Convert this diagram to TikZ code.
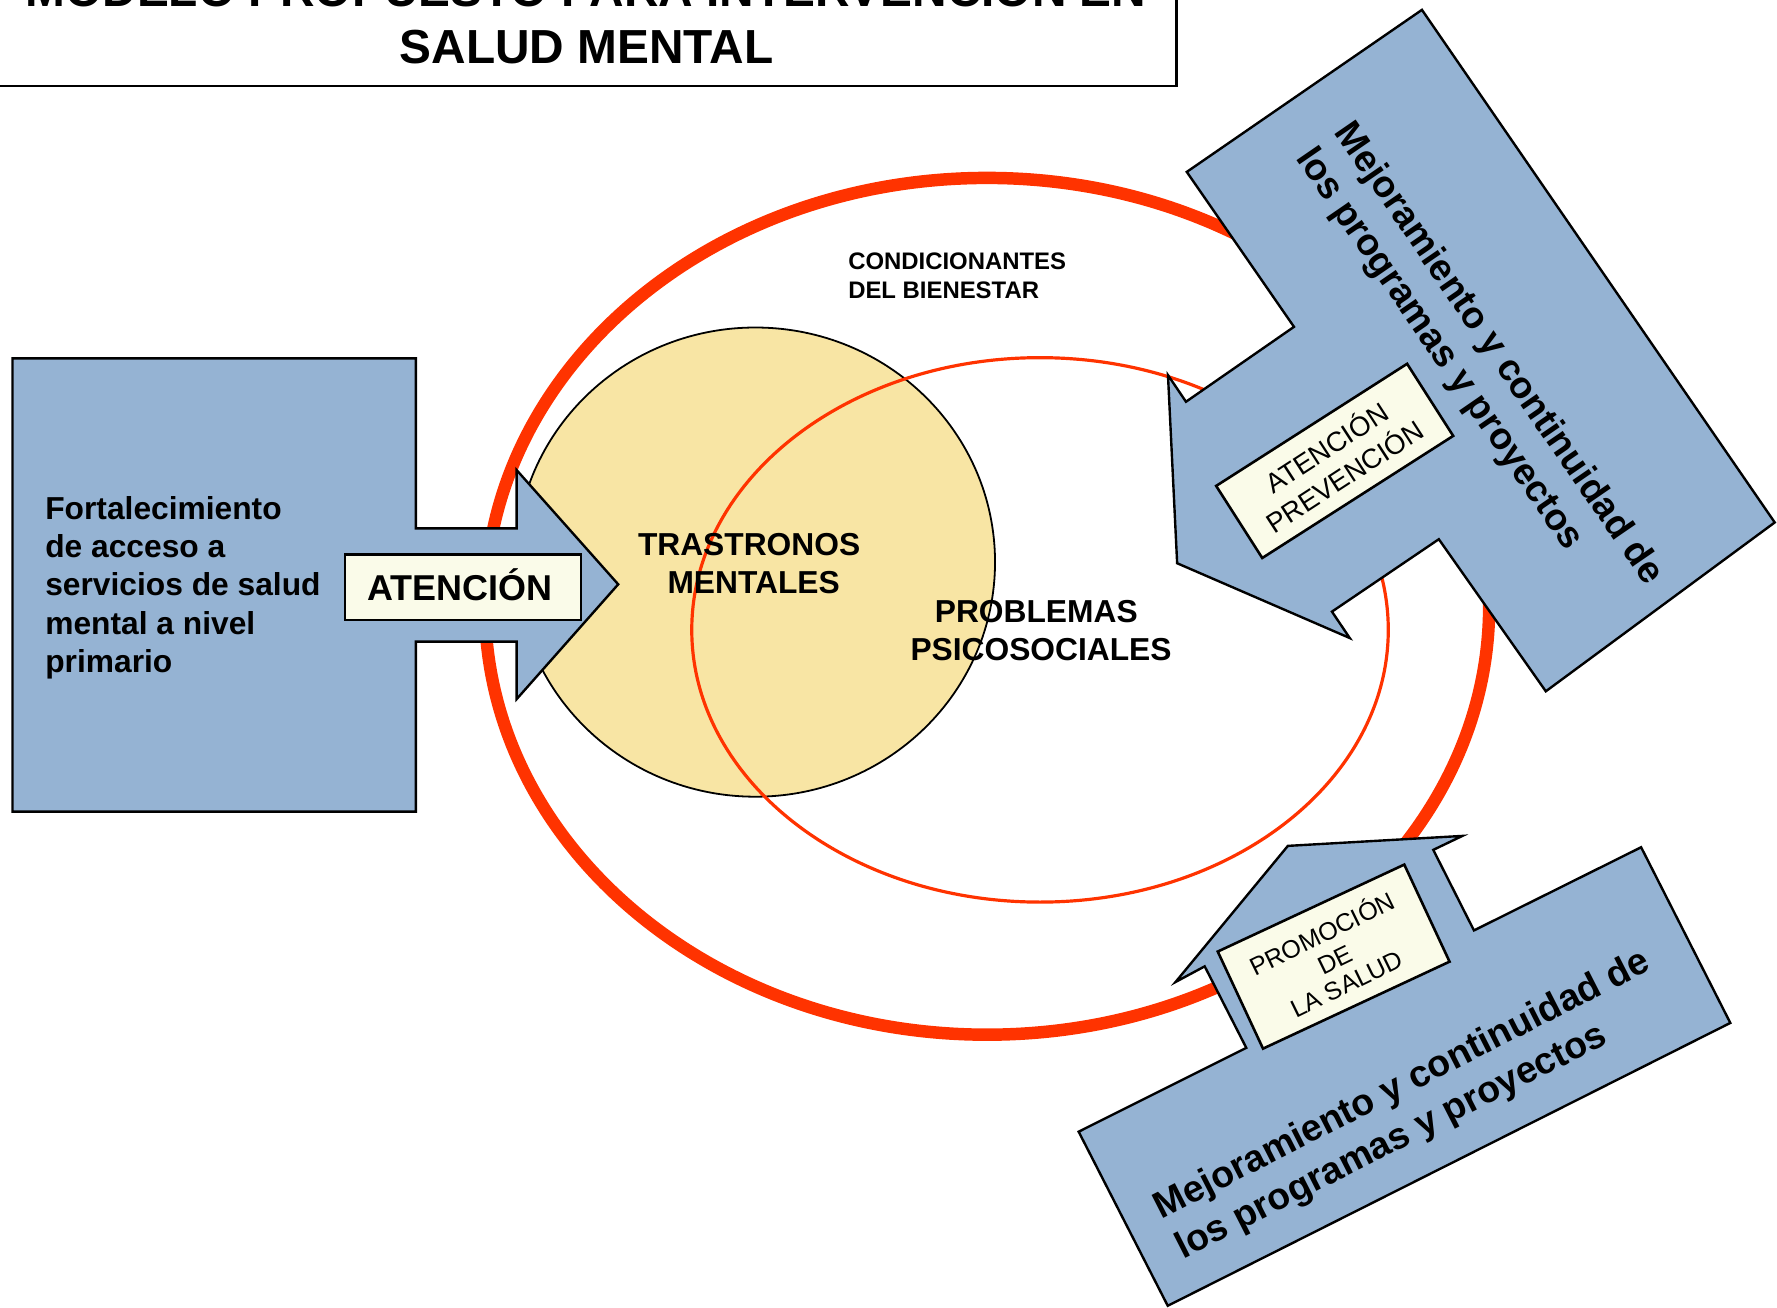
\documentclass[tikz,border=0pt]{standalone}
\usepackage{fontspec}
\setmainfont{Liberation Sans}
\definecolor{shapeblue}{HTML}{95B3D3}
\definecolor{circyellow}{HTML}{F8E5A4}
\definecolor{boxivory}{HTML}{FAFBE9}
\definecolor{ringred}{HTML}{FF3300}
\begin{document}
\begin{tikzpicture}[x=0.1mm,y=-0.1mm,
  bluefill/.style={fill=shapeblue, draw=black, line width=0.6pt, line join=miter, miter limit=30},
  ivorybox/.style={fill=boxivory, draw=black, line width=0.65pt, inner sep=0pt, rectangle},
  txt/.style={inner sep=0pt, outer sep=0pt},
  titletxt/.style={txt, font=\fontsize{12.0}{14.4}\selectfont\bfseries},
  lefttxt/.style={txt, font=\fontsize{7.97}{9.6}\selectfont\bfseries},
  atxt/.style={txt, font=\fontsize{9.02}{11}\selectfont\bfseries},
  condtxt/.style={txt, font=\fontsize{6.0}{7.3}\selectfont\bfseries},
  midtxt/.style={txt, font=\fontsize{7.97}{9.6}\selectfont\bfseries},
  mejtxt/.style={txt, font=\fontsize{9.39}{11.5}\selectfont\bfseries},
  prevtxt/.style={txt, font=\fontsize{6.9}{8.3}\selectfont},
  promtxt/.style={txt, font=\fontsize{6.3}{7.6}\selectfont},
]
\useasboundingbox (0,0) rectangle (1568,1154);
\clip (0,0) rectangle (1568,1154);
\fill[white] (0,0) rectangle (1568,1154);

% title
\draw[line width=0.6pt, fill=white] (-20,-100) rectangle (1038,76);
\node[titletxt, anchor=base] (title1) at (517,5.8) {MODELO PROPUESTO PARA INTERVENCIÓN EN};
\node[titletxt, anchor=base] (title2) at (517.5,56.3) {SALUD MENTAL};

% rings and circle
\draw[ringred, line width=3.13pt] (871,535) ellipse [x radius=443, y radius=378];
\draw[fill=circyellow, draw=black, line width=0.45pt] (666.5,496) ellipse [x radius=211.5, y radius=207];
\draw[ringred, line width=0.8pt] (917.7,555.8) ellipse [x radius=307.3, y radius=240.2];

\node[condtxt, anchor=base west] (cond1) at (748.5,238.2) {CONDICIONANTES};
\node[condtxt, anchor=base west] (cond2) at (748.5,263.8) {DEL BIENESTAR};
\node[midtxt, anchor=base] (tras1) at (661,490.6) {TRASTRONOS};
\node[midtxt, anchor=base] (tras2) at (665,523.5) {MENTALES};
\node[midtxt, anchor=base] (prob1) at (914.4,549.4) {PROBLEMAS};
\node[midtxt, anchor=base] (prob2) at (918.6,583.2) {PSICOSOCIALES};

% left box with arrow
\draw[bluefill] (11,316.2) -- (366.9,316.2) -- (366.9,466.2) -- (455.8,466.2) -- (455.8,414.7)
  -- (545.5,515.6) -- (455.8,617) -- (455.8,566.2) -- (366.9,566.2) -- (366.9,716.2)
  -- (11,716.2) -- cycle;
\node[lefttxt, anchor=base west] (l1) at (40,458.3) {Fortalecimiento};
\node[lefttxt, anchor=base west] (l2) at (40,492.1) {de acceso a};
\node[lefttxt, anchor=base west] (l3) at (40,525.9) {servicios de salud};
\node[lefttxt, anchor=base west] (l4) at (40,559.7) {mental a nivel};
\node[lefttxt, anchor=base west] (l5) at (40,593.5) {primario};
\node[ivorybox, minimum width=20.8mm, minimum height=5.8mm] (atbox) at (408.6,518.1) {};
\node[atxt, anchor=base] (attxt) at (405.9,530) {ATENCIÓN};

% right shape
\draw[bluefill] (1254.7,8.7) -- (1566,461) -- (1364,610) -- (1269.6,475.8) -- (1175.3,539.7)
  -- (1191,563) -- (1038.7,497) -- (1030.6,331) -- (1046.5,354.5) -- (1141.8,288.4)
  -- (1047.2,151.7) -- cycle;
\node[ivorybox, minimum width=20mm, minimum height=7.55mm, rotate=32.6] (prevbox) at (1177.7,406.7) {};
\node[prevtxt, anchor=base, rotate=33] (prev1) at (1175.5,402.5) {ATENCIÓN};
\node[prevtxt, anchor=base, rotate=33] (prev2) at (1191.5,428) {PREVENCIÓN};
\node[mejtxt, anchor=base west, rotate=-55.5] (rm1) at (1177,117) {Mejoramiento y continuidad de};
\node[mejtxt, anchor=base west, rotate=-55.5] (rm2) at (1143,139.5) {los programas y proyectos};

% bottom shape
\draw[bluefill] (951.8,998.6) -- (1099.7,924.6) -- (1063,852.7) -- (1037.3,866.5) -- (1136.4,746.4)
  -- (1290.4,737.6) -- (1264.7,749.9) -- (1300.6,821) -- (1448.1,747.6) -- (1526.8,902.6)
  -- (1030.4,1152.2) -- cycle;
\node[ivorybox, minimum width=18.16mm, minimum height=9.45mm, rotate=25] (prombox) at (1176.8,844.1) {};
\node[promtxt, anchor=base, rotate=26] (prom1) at (1170.3,831.2) {PROMOCIÓN};
\node[promtxt, anchor=base, rotate=26] (prom2) at (1181.5,854.2) {DE};
\node[promtxt, anchor=base, rotate=26] (prom3) at (1191.8,875.3) {LA SALUD};
\node[mejtxt, anchor=base west, rotate=27] (bm1) at (1025,1076) {Mejoramiento y continuidad de};
\node[mejtxt, anchor=base west, rotate=27] (bm2) at (1044,1111.5) {los programas y proyectos};
\end{tikzpicture}
\end{document}
